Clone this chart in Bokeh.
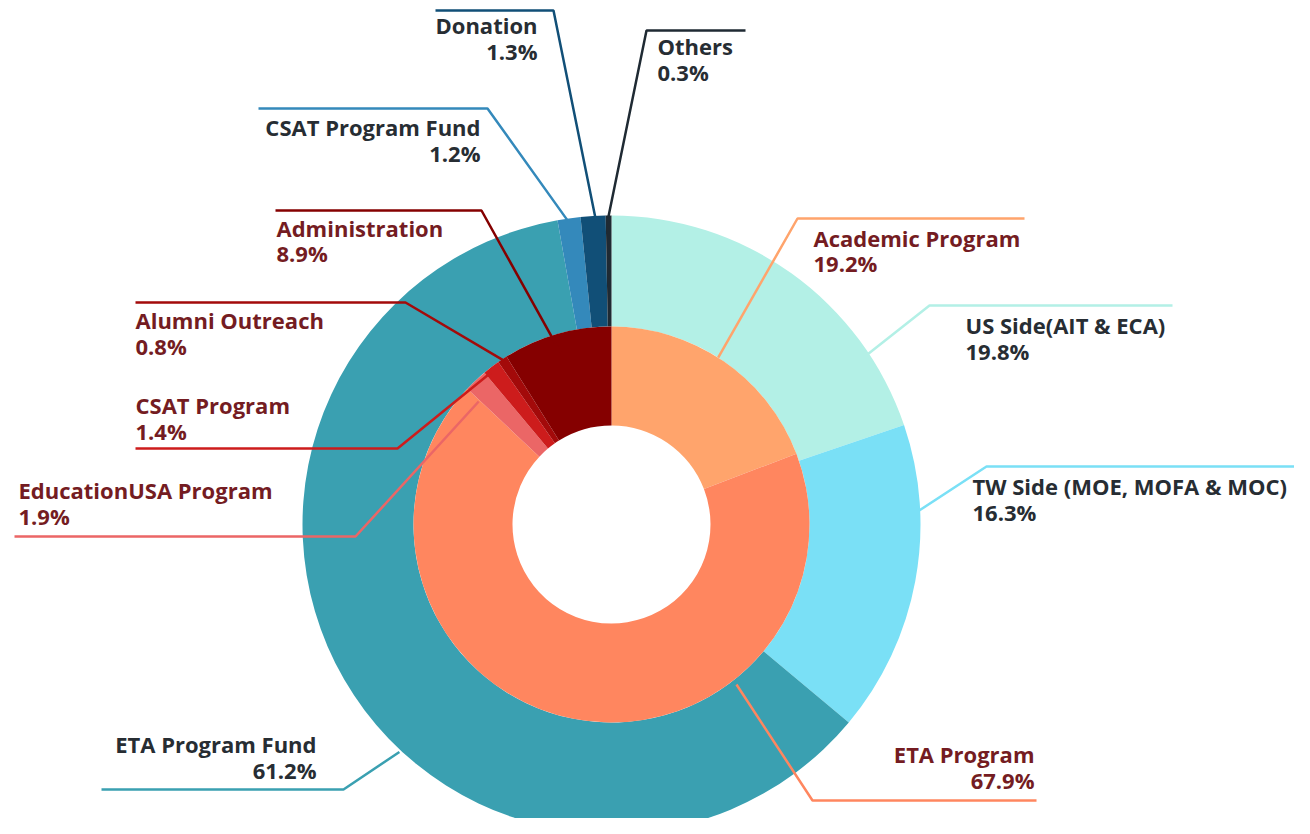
import math
from bokeh.plotting import figure
from bokeh.models import Range1d, ColumnDataSource
from bokeh.embed import file_html
from bokeh.resources import INLINE
from bokeh.core.properties import value

# ---------------- data ----------------
income_labels = ["US Side(AIT & ECA)", "TW Side (MOE, MOFA & MOC)", "ETA Program Fund",
                 "CSAT Program Fund", "Donation", "Others"]
income_values = [19.8, 16.3, 61.2, 1.2, 1.3, 0.3]
income_colors = ["#b3f0e6", "#7ae0f6", "#3aa0b1", "#3489bb", "#114f77", "#1f2a33"]

expense_labels = ["Academic Program", "ETA Program", "EducationUSA Program",
                  "CSAT Program", "Alumni Outreach", "Administration"]
expense_values = [19.2, 67.9, 1.9, 1.4, 0.8, 8.9]
expense_colors = ["#ffa46c", "#ff865f", "#eb6666", "#cd1c1c", "#a30a0a", "#850000"]

# ---------------- layout ----------------
CX, CY = 611, 524            # centre (px, from top-left of the picture)
R_HOLE, R_MID, R_OUT = 99, 198, 309
DARK_TEXT = "#272d33"
RED_TEXT = "#741c22"
FONT = "Open Sans"
FSIZE = "22px"
TEXT_SHIFT = 9               # renderer places alphabetic baseline a little low

# label layout: start (clockwise deg from top, radius), elbow (x, y), end x, text x, align, baselines
label_layout = {
    "Others":                    (-0.6, 307, 646, 30, 745, 657, "left", 54, 80),
    "Donation":                  (-3.0, 307, 553, 10, 435, 537, "right", 33, 59),
    "CSAT Program Fund":         (-8.2, 307, 487, 108, 258, 480, "right", 135, 161),
    "Administration":            (-16.5, 179, 481, 210, 275, 276, "left", 236, 261),
    "Alumni Outreach":           (-33.3, 196, 405, 302, 135, 135, "left", 328, 354),
    "CSAT Program":              (-38.5, 194, 397, 448, 135, 135, "left", 413, 439),
    "EducationUSA Program":      (-47.2, 181, 355, 536, 14, 18, "left", 498, 524),
    "ETA Program Fund":          (223.0, 311, 343, 789, 101, 316, "right", 752, 778),
    "ETA Program":               (142.0, 203, 812, 800, 1036, 1034, "right", 762, 788),
    "Academic Program":          (32.6, 198, 797, 218, 1024, 813, "left", 246, 271),
    "US Side(AIT & ECA)":        (56.4, 308, 929, 305, 1172, 965, "left", 333, 359),
    "TW Side (MOE, MOFA & MOC)": (87.4, 308, 986, 466, 1310, 972, "left", 494, 520),
}

W, H = 1294, 818
p = figure(width=W, height=H, x_range=Range1d(0, W), y_range=Range1d(-H, 0),
           output_backend="svg", toolbar_location=None, min_border=0,
           background_fill_color="white", border_fill_color="white")
p.axis.visible = False
p.grid.visible = False
p.outline_line_color = None


def ring(values, colors, r_in, r_out):
    total = sum(values)
    starts, ends = [], []
    cum = 0.0
    for v in values:
        phi0 = cum / total * 2 * math.pi
        cum += v
        phi1 = cum / total * 2 * math.pi
        starts.append(math.pi / 2 - phi1)
        ends.append(math.pi / 2 - phi0)
    src = ColumnDataSource(dict(x=[CX] * len(values), y=[-CY] * len(values),
                                s=starts, e=ends, c=colors))
    p.annular_wedge(x="x", y="y", inner_radius=r_in, outer_radius=r_out,
                    start_angle="s", end_angle="e", fill_color="c", line_color=None,
                    source=src)


ring(income_values, income_colors, R_MID, R_OUT)
ring(expense_values, expense_colors, R_HOLE, R_MID)


def labels(names, values, colors, text_color):
    for name, v, c in zip(names, values, colors):
        ang, r, ex, ey, endx, tx, align, b1, b2 = label_layout[name]
        a = math.radians(ang)
        sx = CX + r * math.sin(a)
        sy = CY - r * math.cos(a)
        p.line([sx, ex, endx], [-sy, -ey, -ey], line_color=c, line_width=2.5)
        p.text(x=[tx, tx], y=[-(b1 - TEXT_SHIFT), -(b2 - TEXT_SHIFT)], text=[name, f"{v}%"],
               text_align=align, text_baseline="alphabetic",
               text_font=value(FONT), text_font_style="bold",
               text_font_size=FSIZE, text_color=text_color)


labels(income_labels, income_values, income_colors, DARK_TEXT)
labels(expense_labels, expense_values, expense_colors, RED_TEXT)

open("out.html", "w").write(file_html(p, INLINE))
